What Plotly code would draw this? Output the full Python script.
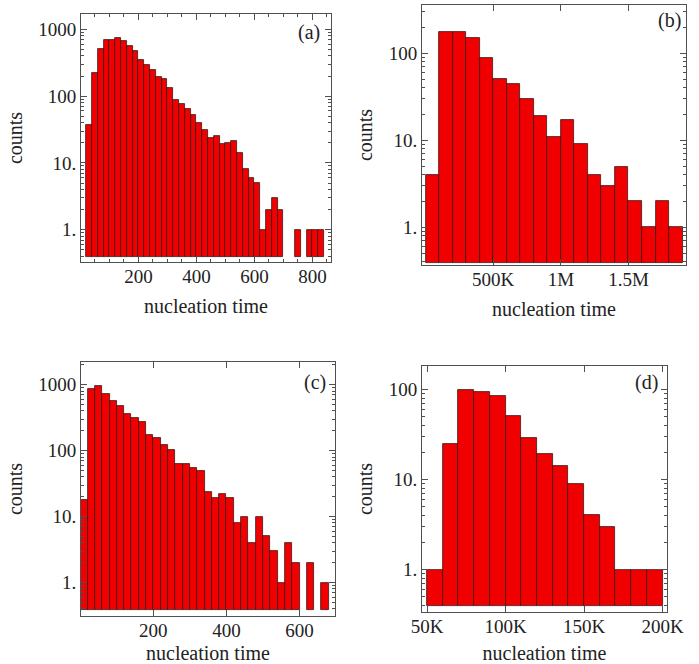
import plotly.graph_objects as go

# ---------------- data ----------------
# (a) bins of width 20 starting at 20
a_bin_start = 20
a_bin_width = 20
a_counts = [37, 220, 500, 690, 700, 740, 670, 560, 470, 350, 290, 245, 190, 183,
            133, 88, 77, 65, 52, 40, 31, 24, 25, 19, 20, 21, 14, 8, 6, 5, 1, 2,
            3, 2, 0, 0, 1, 0, 1, 1, 1]

# (b) bins of width 100K starting at 0
b_bin_start = 0
b_bin_width = 100000
b_counts = [4, 176, 176, 149, 88, 51, 44, 30, 19, 11, 17, 9, 4, 3, 5, 2, 1, 2, 1]

# (c) bins of width 20 starting at 0
c_bin_start = 0
c_bin_width = 20
c_counts = [18, 860, 945, 730, 572, 472, 365, 317, 272, 170, 158, 122, 104, 63,
            63, 54, 50, 24, 19, 22, 19, 8, 10, 4, 10, 5, 3, 1, 4, 2, 0, 2, 0, 1]

# (d) bins of width 10K starting at 50K
d_bin_start = 50000
d_bin_width = 10000
d_counts = [1, 25, 98, 93, 84, 50, 29, 19, 14, 9, 4, 3, 1, 1, 1]

# tick labels
a_xticks = [200, 400, 600, 800]
a_xtext = ["200", "400", "600", "800"]
b_xticks = [500000, 1000000, 1500000]
b_xtext = ["500K", "1M", "1.5M"]
c_xticks = [200, 400, 600]
c_xtext = ["200", "400", "600"]
d_xticks = [50000, 100000, 150000, 200000]
d_xtext = ["50K", "100K", "150K", "200K"]
y_ticks_a = [1, 10, 100, 1000]
y_text_a = ["1.", "10.", "100", "1000"]
y_ticks_b = [1, 10, 100]
y_text_b = ["1.", "10.", "100"]
panel_labels = ["(a)", "(b)", "(c)", "(d)"]

# ---------------- style ----------------
W, H = 699, 664
FONT = "Liberation Serif, Times New Roman, serif"
BAR_FILL = "#f00000"
BAR_EDGE = "rgba(50,20,20,0.95)"
FRAME = "#505050"
TXT = "#222222"

minor_log = [m * 10 ** e for e in range(-1, 4) for m in range(2, 10)]

# frames in pixel coordinates (left, right, top, bottom)
frames = {
    1: (81, 331, 14, 262),
    2: (422, 686, 5, 265),
    3: (81, 335, 362, 616),
    4: (422, 667, 366, 612),
}
xranges = {1: [2, 864], 2: [-26000, 1925000], 3: [2, 697], 4: [46800, 202800]}
yranges = {1: [-0.483, 3.229], 2: [-0.433, 2.555], 3: [-0.508, 3.345], 4: [-0.471, 2.259]}
bases = {1: 0.394, 2: 0.385, 3: 0.379, 4: 0.39}
label_pos = {1: (0.964, 0.927), 2: (0.989, 0.942), 3: (0.972, 0.921), 4: (0.971, 0.931)}
xtitle_standoff = {1: 13, 2: 13, 3: 10, 4: 10}

datasets = {
    1: (a_bin_start, a_bin_width, a_counts),
    2: (b_bin_start, b_bin_width, b_counts),
    3: (c_bin_start, c_bin_width, c_counts),
    4: (d_bin_start, d_bin_width, d_counts),
}
xtick_sets = {1: (a_xticks, a_xtext), 2: (b_xticks, b_xtext),
              3: (c_xticks, c_xtext), 4: (d_xticks, d_xtext)}
ytick_sets = {1: (y_ticks_a, y_text_a), 2: (y_ticks_b, y_text_b),
              3: (y_ticks_a, y_text_a), 4: (y_ticks_b, y_text_b)}

fig = go.Figure()

for k in range(1, 5):
    start, width, counts = datasets[k]
    base = bases[k]
    xs, ys, cs = [], [], []
    for i, c in enumerate(counts):
        if c > 0:
            xs.append(start + width * (i + 0.5))
            ys.append(c - base)
            cs.append(c)
    sfx = "" if k == 1 else str(k)
    fig.add_trace(go.Bar(
        x=xs, y=ys, base=base, width=width, customdata=cs,
        hovertemplate="%{customdata}<extra></extra>",
        marker=dict(color=BAR_FILL, line=dict(color=BAR_EDGE, width=0.8)),
        xaxis="x" + sfx, yaxis="y" + sfx, showlegend=False,
    ))

    l, r, t, b = frames[k]
    xdom = [l / W, r / W]
    ydom = [1 - b / H, 1 - t / H]
    xt, xtt = xtick_sets[k]
    yt, ytt = ytick_sets[k]
    xa = dict(
        domain=xdom, range=xranges[k], anchor="y" + sfx, automargin=False,
        tickmode="array", tickvals=xt, ticktext=xtt,
        ticks="inside", ticklen=6, tickwidth=1, tickcolor=FRAME,
        showline=True, linecolor=FRAME, linewidth=1, mirror="ticks",
        showgrid=False, zeroline=False, ticklabelstandoff=-3,
        tickfont=dict(family=FONT, size=19, color=TXT),
        title=dict(text="nucleation time", font=dict(family=FONT, size=20, color=TXT),
                   standoff=xtitle_standoff[k]),
    )
    if k == 1:
        xa["minor"] = dict(dtick=50, tick0=0, ticks="inside", ticklen=3, tickcolor=FRAME, showgrid=False)
    ya = dict(
        domain=ydom, range=yranges[k], type="log", anchor="x" + sfx, automargin=False,
        tickmode="array", tickvals=yt, ticktext=ytt,
        ticks="inside", ticklen=6, tickwidth=1, tickcolor=FRAME,
        showline=True, linecolor=FRAME, linewidth=1, mirror="ticks",
        showgrid=False, zeroline=False,
        minor=dict(tickmode="array", tickvals=minor_log, ticks="inside", ticklen=3,
                   tickcolor=FRAME, showgrid=False),
        tickfont=dict(family=FONT, size=19, color=TXT),
        title=dict(text="counts", font=dict(family=FONT, size=20, color=TXT), standoff=10),
    )
    fig.update_layout(**{"xaxis" + sfx: xa, "yaxis" + sfx: ya})

    lx, ly = label_pos[k]
    fig.add_annotation(
        text=panel_labels[k - 1], xref="x" + sfx + " domain", yref="y" + sfx + " domain",
        x=lx, y=ly, xanchor="right", yanchor="middle", showarrow=False,
        font=dict(family=FONT, size=20, color=TXT),
    )

fig.update_layout(
    width=W, height=H, margin=dict(l=0, r=0, t=0, b=0),
    paper_bgcolor="white", plot_bgcolor="white", bargap=0,
)

fig.write_html("out.html", config={"displayModeBar": False},
               post_script="document.body.style.margin='0px';")
